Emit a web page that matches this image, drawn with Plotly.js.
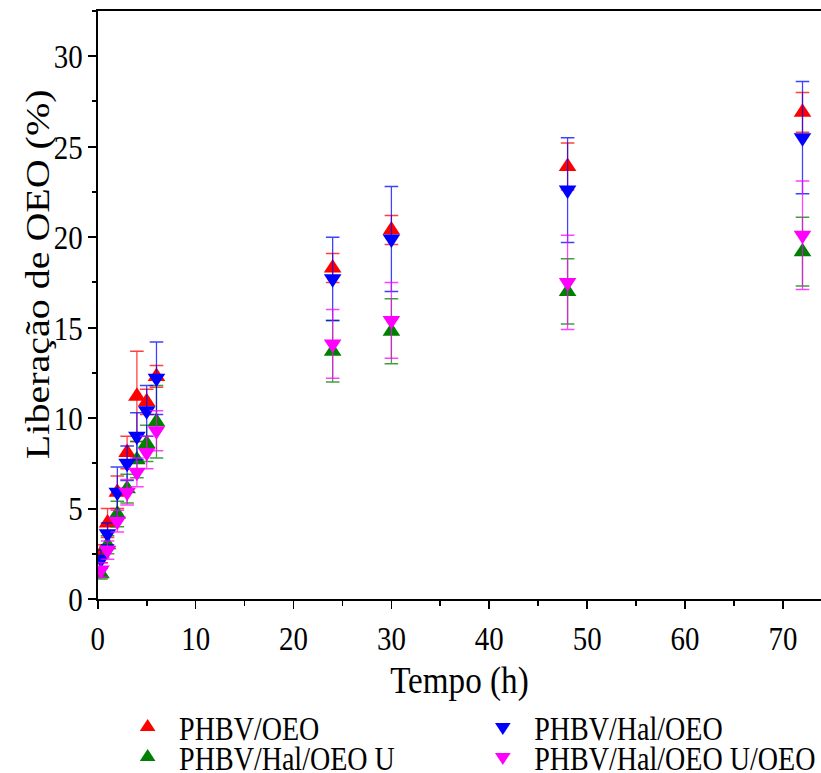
<!DOCTYPE html>
<html>
<head>
<meta charset="utf-8">
<script src="https://cdn.plot.ly/plotly-3.0.1.min.js"></script>
<style>
  html, body { margin: 0; padding: 0; overflow: hidden; background: #fff; }
  #wrap { width: 821px; height: 773px; overflow: hidden; }
  #chart { width: 966px; height: 773px; transform: scaleX(0.85); transform-origin: 0 0; }
</style>
</head>
<body>
<div id="wrap"><div id="chart"></div></div>
<script>
// Data
const tempo = [0.33, 1, 2, 3, 4, 5, 6, 24, 30, 48, 72];

const names = ["PHBV/OEO", "PHBV/Hal/OEO", "PHBV/Hal/OEO U", "PHBV/Hal/OEO U/OEO"];
const xTitle = "Tempo (h)";
const yTitle = "Liberação de OEO (%)";

const phbvOEO        = [2.5, 4.2, 5.9, 8.1, 11.2, 10.9, 12.3, 18.3, 20.4, 23.9, 26.9];
const phbvOEO_err    = [0.5, 0.8, 0.9, 0.9, 2.5, 0.7, 0.6, 0.8, 0.8, 1.3, 1.1];

const phbvHalOEO     = [2.2, 3.6, 5.9, 7.5, 9.0, 10.4, 12.2, 17.7, 19.9, 22.6, 25.5];
const phbvHalOEO_err = [0.5, 0.6, 1.4, 0.95, 1.3, 1.4, 2.0, 2.3, 2.9, 2.9, 3.1];

const phbvHalOEOU     = [1.4, 3.0, 4.7, 6.1, 7.7, 8.6, 9.8, 13.7, 14.8, 17.0, 19.2];
const phbvHalOEOU_err = [0.3, 0.5, 0.7, 0.8, 1.0, 1.0, 2.0, 1.7, 1.8, 1.8, 1.9];

const phbvHalOEOUOEO     = [1.6, 2.7, 4.3, 5.9, 7.0, 8.1, 9.3, 14.1, 15.4, 17.5, 20.1];
const phbvHalOEOUOEO_err = [0.4, 0.5, 0.6, 0.7, 0.8, 0.9, 1.1, 1.9, 2.1, 2.6, 3.0];

const FONT = "Liberation Serif, Times New Roman, serif";

function series(name, y, err, color, ecolor, symbol, legend) {
  return {
    type: "scatter", mode: "markers", name: name, x: tempo, y: y,
    legend: legend,
    marker: { symbol: symbol, size: 18, color: color, line: { width: 0 } },
    error_y: { type: "data", array: err, visible: true, color: ecolor, thickness: 1.5, width: 8 }
  };
}

const data = [
  series(names[0], phbvOEO, phbvOEO_err, "#ff0000", "rgba(255,0,0,0.75)", "triangle-up", "legend"),
  series(names[2], phbvHalOEOU, phbvHalOEOU_err, "#008000", "rgba(0,128,0,0.75)", "triangle-up", "legend3"),
  series(names[1], phbvHalOEO, phbvHalOEO_err, "#0000ff", "rgba(0,0,255,0.75)", "triangle-down", "legend2"),
  series(names[3], phbvHalOEOUOEO, phbvHalOEOUOEO_err, "#ff00ff", "rgba(255,0,255,0.75)", "triangle-down", "legend4")
];

function leg(x, y) {
  return {
    orientation: "h", xanchor: "left", yanchor: "middle", x: x, y: y,
    itemwidth: 64,
    font: { family: FONT, size: 33, color: "#000" }, bgcolor: "rgba(0,0,0,0)", borderwidth: 0
  };
}

const layout = {
  width: 966, height: 773,
  margin: { l: 115, r: 0, t: 11, b: 174, autoexpand: false },
  paper_bgcolor: "#fff", plot_bgcolor: "#fff",
  font: { family: FONT, color: "#000" },
  showlegend: true,
  legend:  leg(0.0255, -0.2177),
  legend2: leg(0.5165, -0.2177),
  legend3: leg(0.0255, -0.2687),
  legend4: leg(0.5165, -0.2687),
  annotations: [{
    text: yTitle, textangle: -90, xref: "paper", yref: "paper",
    x: -0.0844, y: 0.5527, xanchor: "center", yanchor: "middle", showarrow: false,
    font: { family: FONT, size: 40, color: "#000" }
  }],
  xaxis: {
    range: [0, 73.9], dtick: 10, tick0: 0,
    showline: true, linecolor: "#000", linewidth: 2, mirror: true,
    ticks: "outside", ticklen: 8, tickwidth: 2, tickcolor: "#000",
    minor: { dtick: 5, ticks: "outside", ticklen: 5, tickwidth: 2, tickcolor: "#000" },
    showgrid: false, zeroline: false,
    tickfont: { family: FONT, size: 34, color: "#000" },
    title: { text: xTitle, font: { family: FONT, size: 39, color: "#000" }, standoff: 10 },
    automargin: false
  },
  yaxis: {
    range: [0, 32.5], dtick: 5, tick0: 0,
    showline: true, linecolor: "#000", linewidth: 2, mirror: false,
    ticks: "outside", ticklen: 9, tickwidth: 2, tickcolor: "#000",
    minor: { dtick: 2.5, ticks: "outside", ticklen: 5, tickwidth: 2, tickcolor: "#000" },
    showgrid: false, zeroline: false,
    tickfont: { family: FONT, size: 34, color: "#000" },
    automargin: false
  }
};

Plotly.newPlot("chart", data, layout, { displayModeBar: false, staticPlot: true });
</script>
</body>
</html>
